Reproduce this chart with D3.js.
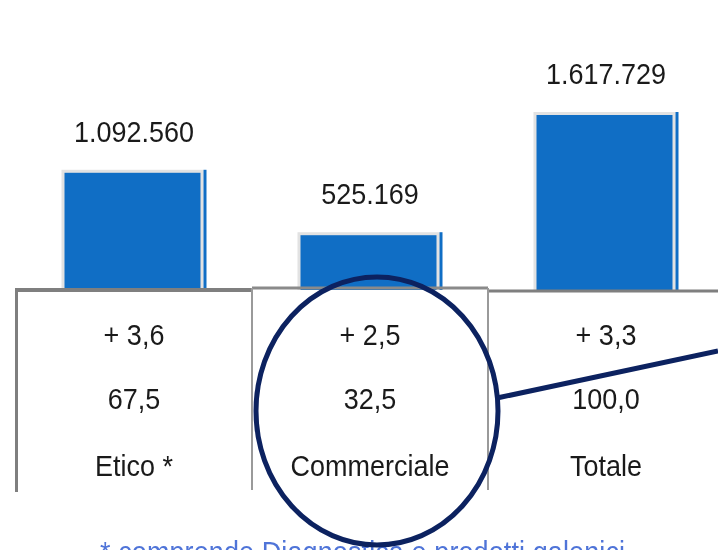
<!DOCTYPE html>
<html>
<head>
<meta charset="utf-8">
<script src="https://cdn.jsdelivr.net/npm/d3@7"></script>
<style>
  body { margin: 0; background: #fff; }
  svg { display: block; }
  text { font-family: "Liberation Sans", Arial, sans-serif; }
</style>
</head>
<body>
<div id="chart"></div>
<script>
var categories = ['Etico *', 'Commerciale', 'Totale']
var values = [1092560, 525169, 1617729]
var changes = [3.6, 2.5, 3.3]
var shares = [67.5, 32.5, 100.0]
var footnote = '* comprende Diagnostica e prodotti galenici'

var width = 718, height = 550
var baseline = 290
var stretch = 1.12

var it = d3.formatLocale({decimal: ',', thousands: '.', grouping: [3], currency: ['', '']})
var fmtVal = it.format(',')
var fmt1 = it.format('.1f')

var svg = d3.select('#chart').append('svg')
  .attr('width', width)
  .attr('height', height)
  .style('filter', 'blur(0.35px)')

var x = d3.scaleBand().domain(categories).range([16, 724]).padding(0)
var y = d3.scaleLinear().domain([0, d3.max(values)]).range([baseline, 112])

var barW = 145
var data = categories.map(function(c, i){
  return {cat: c, value: values[i], change: changes[i], share: shares[i]}
})

function place(px, py){ return 'translate(' + px + ',' + py + ') scale(1,' + stretch + ')' }

// bars: grey frame, blue fill, thin blue strip on the right
var bars = svg.selectAll('g.bar').data(data).enter().append('g').attr('class', 'bar')
  .attr('transform', function(d){ return 'translate(' + (x(d.cat) + x.bandwidth() / 2 - barW / 2) + ',0)' })

bars.append('rect')
  .attr('x', 0).attr('y', function(d){ return y(d.value) })
  .attr('width', barW - 3).attr('height', function(d){ return baseline - y(d.value) })
  .attr('fill', '#e2e2e2')
bars.append('rect')
  .attr('x', 3).attr('y', function(d){ return y(d.value) + 3 })
  .attr('width', barW - 9).attr('height', function(d){ return baseline - y(d.value) - 3 })
  .attr('fill', '#106ec5')
bars.append('rect')
  .attr('x', barW - 3).attr('y', function(d){ return y(d.value) })
  .attr('width', 3).attr('height', function(d){ return baseline - y(d.value) })
  .attr('fill', '#106ec5')

bars.append('text')
  .attr('transform', function(d){ return place(barW / 2, y(d.value) - 28) })
  .attr('text-anchor', 'middle')
  .attr('font-size', 27)
  .attr('fill', '#1a1a1a')
  .text(function(d){ return fmtVal(d.value) })

// table under the bars
var tbl = svg.append('g')
tbl.append('line').attr('x1', 15).attr('x2', x('Commerciale')).attr('y1', baseline).attr('y2', baseline)
  .attr('stroke', '#7f7f7f').attr('stroke-width', 4)
tbl.append('line').attr('x1', x('Commerciale')).attr('x2', x('Totale')).attr('y1', baseline - 2).attr('y2', baseline - 2)
  .attr('stroke', '#8a8a8a').attr('stroke-width', 3)
tbl.append('line').attr('x1', x('Totale')).attr('x2', width).attr('y1', baseline + 1).attr('y2', baseline + 1)
  .attr('stroke', '#7f7f7f').attr('stroke-width', 3)
tbl.append('line').attr('x1', 16.5).attr('x2', 16.5).attr('y1', baseline - 2).attr('y2', 492)
  .attr('stroke', '#7f7f7f').attr('stroke-width', 3)
;['Commerciale', 'Totale'].forEach(function(c){
  tbl.append('line').attr('x1', x(c)).attr('x2', x(c)).attr('y1', baseline - 2).attr('y2', 490)
    .attr('stroke', '#9a9a9a').attr('stroke-width', 2)
})

var rows = [
  {y: 345, f: function(d){ return '+ ' + fmt1(d.change) }},
  {y: 409, f: function(d){ return fmt1(d.share) }},
  {y: 476, f: function(d){ return d.cat }}
]
rows.forEach(function(r){
  svg.selectAll(null).data(data).enter().append('text')
    .attr('transform', function(d){ return place(x(d.cat) + x.bandwidth() / 2, r.y) })
    .attr('text-anchor', 'middle')
    .attr('font-size', 27)
    .attr('fill', '#1a1a1a')
    .text(r.f)
})

// footnote, cut by the bottom edge as in the source slide
svg.append('text')
  .attr('transform', place(100, 562))
  .attr('font-size', 27)
  .attr('fill', '#4f74d8')
  .attr('textLength', 525)
  .text(footnote)

// callout ellipse around Commerciale
var cx = x('Commerciale') + x.bandwidth() / 2 + 7
svg.append('ellipse')
  .attr('cx', cx).attr('cy', 411)
  .attr('rx', 121).attr('ry', 134)
  .attr('fill', 'none')
  .attr('stroke', '#0c2260')
  .attr('stroke-width', 5)
svg.append('line')
  .attr('x1', cx + 120).attr('y1', 398)
  .attr('x2', width).attr('y2', 351)
  .attr('stroke', '#0c2260')
  .attr('stroke-width', 5)
</script>
</body>
</html>
